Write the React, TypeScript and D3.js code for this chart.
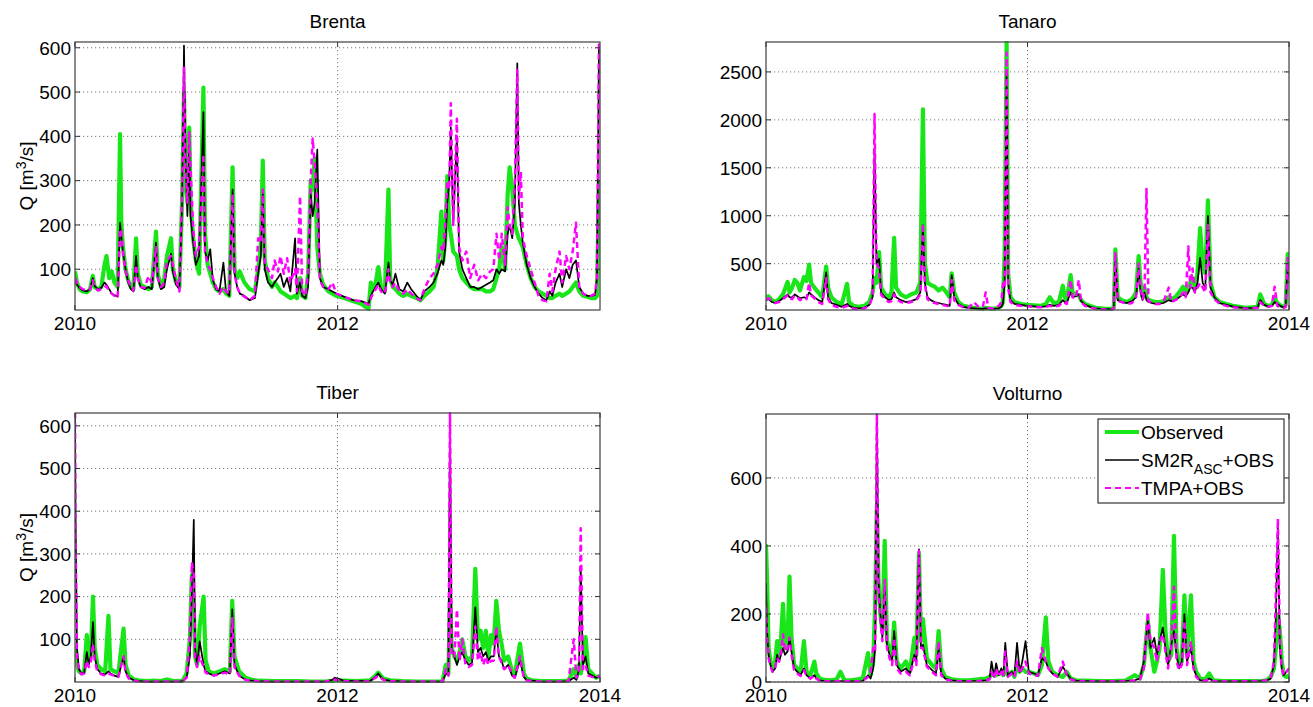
import * as d3 from 'd3';

// time in decimal years, discharge in m3/s
const brentaT = [
  2010.000, 2010.015, 2010.035, 2010.060, 2010.090, 2010.115, 2010.135, 2010.150, 2010.175, 2010.200,
  2010.225, 2010.240, 2010.260, 2010.280, 2010.300, 2010.325, 2010.343, 2010.352, 2010.365, 2010.385,
  2010.405, 2010.425, 2010.445, 2010.465, 2010.478, 2010.500, 2010.530, 2010.560, 2010.585, 2010.617,
  2010.630, 2010.655, 2010.680, 2010.700, 2010.731, 2010.745, 2010.770, 2010.795, 2010.815, 2010.830,
  2010.842, 2010.856, 2010.870, 2010.880, 2010.900, 2010.920, 2010.945, 2010.978, 2010.990, 2011.010,
  2011.030, 2011.050, 2011.075, 2011.100, 2011.130, 2011.150, 2011.175, 2011.200, 2011.215, 2011.235,
  2011.255, 2011.290, 2011.330, 2011.370, 2011.395, 2011.415, 2011.430, 2011.445, 2011.470, 2011.500,
  2011.520, 2011.545, 2011.565, 2011.590, 2011.615, 2011.640, 2011.676, 2011.690, 2011.714, 2011.730,
  2011.755, 2011.775, 2011.795, 2011.810, 2011.825, 2011.845, 2011.865, 2011.890, 2011.930, 2011.960,
  2011.990, 2012.050, 2012.120, 2012.180, 2012.235, 2012.253, 2012.270, 2012.290, 2012.310, 2012.330,
  2012.360, 2012.387, 2012.400, 2012.420, 2012.440, 2012.470, 2012.500, 2012.530, 2012.560, 2012.600,
  2012.630, 2012.660, 2012.700, 2012.730, 2012.760, 2012.790, 2012.805, 2012.820, 2012.835, 2012.850,
  2012.862, 2012.880, 2012.908, 2012.925, 2012.950, 2012.980, 2013.010, 2013.040, 2013.070, 2013.100,
  2013.130, 2013.160, 2013.185, 2013.210, 2013.230, 2013.250, 2013.275, 2013.295, 2013.310, 2013.330,
  2013.350, 2013.368, 2013.380, 2013.395, 2013.410, 2013.440, 2013.470, 2013.500, 2013.530, 2013.560,
  2013.590, 2013.615, 2013.635, 2013.660, 2013.690, 2013.710, 2013.740, 2013.765, 2013.790, 2013.815,
  2013.840, 2013.870, 2013.900, 2013.930, 2013.960, 2013.975, 2013.990,
];
const brentaObs = [
  95, 70, 55, 50, 48, 55, 85, 60, 55, 60,
  110, 130, 80, 95, 70, 60, 405, 210, 150, 100,
  75, 60, 55, 170, 90, 65, 60, 55, 60, 185,
  90, 60, 80, 130, 170, 100, 70, 60, 250, 500,
  300, 250, 420, 250, 170, 120, 90, 510, 180, 110,
  90, 70, 55, 50, 55, 45, 40, 330, 100, 80,
  95, 70, 55, 50, 100, 150, 345, 120, 80, 60,
  70, 60, 50, 45, 40, 35, 40, 35, 80, 40,
  35, 90, 300, 280, 350, 150, 90, 65, 50, 45,
  40, 35, 28, 22, 10, 70, 55, 70, 105, 60,
  50, 280, 80, 60, 55, 45, 40, 45, 40, 35,
  30, 40, 50, 60, 100, 230, 120, 170, 310, 200,
  180, 140, 130, 100, 80, 70, 60, 55, 55, 55,
  50, 50, 55, 80, 100, 150, 100, 270, 330, 280,
  200, 180, 170, 160, 150, 110, 80, 60, 50, 45,
  40, 35, 35, 40, 45, 40, 45, 50, 60, 70,
  50, 40, 38, 35, 35, 40, 300,
];
const brentaSm2r = [
  75, 65, 58, 52, 50, 55, 80, 62, 55, 58,
  70, 65, 55, 45, 42, 38, 205, 175, 140, 100,
  70, 55, 50, 130, 80, 60, 55, 60, 55, 160,
  80, 55, 60, 100, 135, 95, 65, 55, 240, 605,
  350, 220, 380, 220, 160, 110, 130, 455, 140, 120,
  145, 75, 55, 50, 115, 50, 40, 280, 90, 60,
  45, 40, 30, 35, 90, 130, 270, 100, 70, 60,
  70, 80, 90, 60, 80, 50, 170, 45, 70, 40,
  35, 60, 270, 220, 250, 370, 80, 60, 55, 50,
  45, 38, 30, 28, 22, 40, 50, 60, 70, 55,
  45, 115, 75, 65, 90, 55, 50, 70, 55, 40,
  30, 50, 60, 70, 90, 120, 110, 150, 250, 300,
  420, 200, 400, 140, 100, 80, 60, 60, 55, 60,
  65, 70, 75, 100, 90, 100, 95, 180, 200, 170,
  250, 565, 250, 200, 160, 110, 80, 60, 45, 35,
  30, 50, 40, 70, 90, 60, 100, 80, 110, 120,
  60, 45, 40, 40, 42, 80, 600,
];
const brentaTmpa = [
  80, 70, 60, 55, 52, 55, 75, 60, 52, 55,
  60, 62, 50, 45, 40, 35, 190, 190, 140, 95,
  75, 60, 52, 110, 80, 60, 58, 85, 70, 150,
  80, 60, 70, 120, 130, 110, 75, 50, 260, 555,
  320, 250, 410, 330, 190, 130, 150, 360, 140, 110,
  100, 80, 60, 45, 60, 50, 45, 270, 90, 60,
  45, 38, 30, 40, 170, 160, 280, 110, 100, 80,
  120, 95, 130, 90, 125, 70, 100, 50, 265, 50,
  40, 90, 300, 395, 340, 250, 75, 60, 55, 70,
  45, 38, 30, 28, 20, 35, 45, 55, 65, 50,
  45, 100, 70, 60, 70, 50, 45, 55, 45, 35,
  30, 55, 80, 90, 110, 150, 140, 200, 300, 280,
  475, 200, 440, 150, 120, 140, 80, 110, 75, 90,
  80, 95, 100, 180, 120, 180, 110, 240, 200, 180,
  300, 550, 260, 320, 170, 130, 100, 70, 40, 30,
  28, 90, 50, 100, 140, 70, 130, 100, 140, 205,
  60, 45, 40, 40, 45, 80, 613,
];

const tanaroT = [
  2010.000, 2010.020, 2010.045, 2010.070, 2010.100, 2010.130, 2010.165, 2010.180, 2010.200, 2010.220,
  2010.240, 2010.260, 2010.290, 2010.310, 2010.330, 2010.345, 2010.370, 2010.400, 2010.430, 2010.460,
  2010.475, 2010.500, 2010.540, 2010.580, 2010.620, 2010.635, 2010.670, 2010.710, 2010.750, 2010.790,
  2010.815, 2010.830, 2010.845, 2010.865, 2010.880, 2010.910, 2010.940, 2010.960, 2010.980, 2010.995,
  2011.030, 2011.070, 2011.110, 2011.150, 2011.180, 2011.200, 2011.215, 2011.235, 2011.260, 2011.290,
  2011.320, 2011.350, 2011.380, 2011.405, 2011.420, 2011.440, 2011.470, 2011.510, 2011.550, 2011.590,
  2011.630, 2011.660, 2011.680, 2011.700, 2011.740, 2011.780, 2011.800, 2011.812, 2011.825, 2011.840,
  2011.852, 2011.870, 2011.900, 2011.950, 2012.000, 2012.050, 2012.100, 2012.140, 2012.170, 2012.200,
  2012.240, 2012.270, 2012.285, 2012.300, 2012.330, 2012.345, 2012.370, 2012.392, 2012.410, 2012.440,
  2012.480, 2012.520, 2012.560, 2012.600, 2012.640, 2012.660, 2012.672, 2012.690, 2012.720, 2012.760,
  2012.800, 2012.830, 2012.850, 2012.865, 2012.880, 2012.895, 2012.910, 2012.925, 2012.950, 2012.980,
  2013.010, 2013.040, 2013.080, 2013.100, 2013.130, 2013.160, 2013.190, 2013.210, 2013.230, 2013.245,
  2013.262, 2013.280, 2013.300, 2013.320, 2013.340, 2013.360, 2013.380, 2013.400, 2013.430, 2013.470,
  2013.520, 2013.570, 2013.620, 2013.670, 2013.720, 2013.760, 2013.780, 2013.810, 2013.840, 2013.870,
  2013.890, 2013.910, 2013.940, 2013.960, 2013.975, 2013.990, 2014.000,
];
const tanaroObs = [
  150, 160, 120, 100, 130, 180, 310, 200, 250, 330,
  300, 220, 360, 320, 490, 300, 250, 200, 150, 470,
  250, 150, 100, 80, 290, 100, 60, 50, 60, 100,
  200, 350, 300, 620, 250, 180, 150, 200, 770, 250,
  180, 150, 180, 200, 300, 2110, 500, 300, 280, 260,
  220, 250, 200, 150, 400, 200, 100, 60, 50, 40,
  35, 30, 40, 35, 30, 40, 60, 100, 600, 2812,
  400, 150, 100, 80, 70, 65, 60, 80, 150, 90,
  100, 270, 150, 120, 380, 200, 180, 170, 120, 80,
  60, 40, 35, 30, 30, 40, 650, 150, 120, 100,
  130, 200, 580, 300, 150, 250, 150, 120, 110, 100,
  100, 110, 150, 130, 150, 200, 260, 200, 250, 300,
  350, 250, 400, 870, 500, 400, 1160, 300, 150, 100,
  80, 60, 50, 40, 45, 50, 180, 80, 60, 70,
  150, 90, 60, 50, 70, 600, 400,
];
const tanaroSm2r = [
  120, 130, 100, 90, 110, 140, 180, 150, 150, 180,
  160, 140, 150, 140, 200, 180, 150, 120, 100, 410,
  150, 90, 70, 50, 80, 60, 40, 35, 40, 70,
  150, 1700, 500, 550, 200, 150, 120, 130, 200, 150,
  120, 100, 110, 130, 200, 900, 300, 150, 120, 100,
  90, 80, 70, 60, 380, 150, 80, 50, 40, 35,
  30, 28, 35, 30, 28, 35, 50, 80, 300, 2500,
  300, 120, 80, 70, 60, 55, 50, 55, 70, 60,
  70, 120, 100, 90, 200, 150, 160, 180, 110, 70,
  50, 35, 30, 28, 25, 35, 550, 120, 100, 90,
  110, 150, 450, 200, 120, 200, 120, 100, 90, 80,
  85, 90, 120, 110, 120, 150, 180, 160, 200, 250,
  250, 200, 300, 560, 300, 250, 1000, 250, 150, 90,
  70, 55, 45, 38, 40, 45, 120, 70, 55, 60,
  100, 80, 55, 45, 60, 500, 300,
];
const tanaroTmpa = [
  130, 140, 110, 90, 100, 130, 170, 140, 130, 170,
  150, 120, 140, 130, 300, 170, 140, 100, 80, 350,
  130, 70, 50, 40, 60, 45, 30, 25, 35, 60,
  160, 2060, 500, 450, 180, 130, 100, 110, 180, 130,
  100, 90, 100, 120, 180, 920, 280, 130, 100, 90,
  80, 70, 60, 55, 330, 120, 70, 45, 40, 100,
  40, 60, 200, 40, 30, 60, 100, 290, 250, 2700,
  250, 100, 70, 60, 55, 50, 45, 50, 60, 55,
  60, 100, 90, 80, 330, 150, 140, 330, 100, 60,
  40, 30, 25, 22, 20, 30, 620, 110, 100, 80,
  90, 150, 500, 250, 130, 200, 1280, 110, 90, 80,
  80, 100, 250, 100, 120, 140, 200, 150, 680, 250,
  450, 200, 250, 300, 250, 200, 900, 200, 130, 80,
  60, 45, 40, 30, 35, 40, 100, 60, 50, 60,
  260, 60, 45, 40, 50, 560, 300,
];

const tiberT = [
  2010.000, 2010.004, 2010.015, 2010.030, 2010.050, 2010.070, 2010.090, 2010.105, 2010.120, 2010.137,
  2010.150, 2010.170, 2010.200, 2010.230, 2010.255, 2010.270, 2010.300, 2010.330, 2010.370, 2010.385,
  2010.410, 2010.450, 2010.500, 2010.550, 2010.600, 2010.650, 2010.700, 2010.750, 2010.790, 2010.820,
  2010.850, 2010.875, 2010.890, 2010.905, 2010.915, 2010.930, 2010.950, 2010.980, 2010.995, 2011.020,
  2011.060, 2011.100, 2011.140, 2011.180, 2011.198, 2011.215, 2011.250, 2011.300, 2011.350, 2011.400,
  2011.500, 2011.600, 2011.700, 2011.800, 2011.900, 2011.960, 2011.980, 2012.000, 2012.050, 2012.150,
  2012.250, 2012.290, 2012.310, 2012.330, 2012.350, 2012.400, 2012.500, 2012.600, 2012.700, 2012.800,
  2012.825, 2012.845, 2012.857, 2012.870, 2012.890, 2012.910, 2012.930, 2012.950, 2012.975, 2013.000,
  2013.025, 2013.050, 2013.070, 2013.090, 2013.110, 2013.130, 2013.150, 2013.170, 2013.190, 2013.210,
  2013.230, 2013.250, 2013.270, 2013.300, 2013.330, 2013.350, 2013.390, 2013.420, 2013.440, 2013.480,
  2013.550, 2013.620, 2013.700, 2013.760, 2013.800, 2013.820, 2013.840, 2013.853, 2013.870, 2013.890,
  2013.910, 2013.940, 2013.970, 2014.000,
];
const tiberObs = [
  60, 80, 40, 25, 20, 25, 110, 50, 60, 200,
  80, 40, 30, 25, 155, 30, 25, 20, 125, 40,
  15, 6, 3, 2, 3, 2, 6, 2, 2, 3,
  20, 100, 250, 180, 60, 40, 130, 200, 50, 25,
  20, 25, 30, 25, 190, 60, 25, 10, 5, 3,
  2, 2, 2, 1, 1, 2, 4, 5, 3, 2,
  4, 15, 22, 15, 8, 4, 2, 1, 1, 1,
  40, 20, 200, 80, 60, 50, 70, 100, 60, 50,
  60, 265, 100, 120, 80, 120, 60, 110, 90, 190,
  120, 90, 50, 60, 25, 15, 90, 20, 8, 4,
  2, 2, 2, 3, 30, 10, 40, 20, 50, 105,
  30, 20, 10, 15,
];
const tiberSm2r = [
  630, 400, 80, 30, 20, 22, 70, 40, 60, 140,
  60, 30, 20, 18, 25, 20, 15, 12, 60, 25,
  10, 4, 2, 1, 1, 1, 1, 1, 1, 2,
  10, 60, 200, 380, 80, 40, 95, 40, 25, 20,
  15, 20, 25, 20, 170, 40, 15, 5, 3, 2,
  1, 1, 1, 1, 1, 5, 10, 8, 3, 2,
  3, 12, 20, 12, 6, 3, 1, 1, 1, 1,
  20, 15, 620, 80, 60, 40, 60, 70, 50, 40,
  45, 175, 70, 80, 60, 70, 50, 60, 60, 120,
  60, 50, 30, 40, 15, 10, 50, 12, 5, 3,
  1, 1, 1, 2, 10, 5, 30, 270, 40, 60,
  20, 15, 10, 12,
];
const tiberTmpa = [
  630, 350, 60, 25, 18, 20, 50, 35, 45, 90,
  50, 25, 18, 15, 20, 18, 15, 12, 60, 22,
  8, 3, 1, 1, 1, 1, 1, 1, 1, 2,
  10, 100, 280, 250, 60, 35, 60, 35, 22, 18,
  15, 18, 22, 18, 150, 35, 15, 5, 3, 2,
  1, 1, 1, 1, 1, 3, 6, 5, 2, 1,
  2, 10, 15, 10, 5, 2, 1, 1, 1, 1,
  30, 15, 630, 60, 60, 170, 50, 100, 40, 35,
  40, 130, 50, 70, 40, 60, 40, 50, 50, 130,
  60, 45, 30, 40, 20, 10, 60, 10, 4, 2,
  1, 1, 1, 2, 100, 10, 20, 360, 30, 40,
  15, 12, 10, 15,
];

const volturnoT = [
  2010.000, 2010.008, 2010.020, 2010.035, 2010.050, 2010.070, 2010.085, 2010.100, 2010.115, 2010.130,
  2010.145, 2010.165, 2010.180, 2010.195, 2010.215, 2010.240, 2010.265, 2010.290, 2010.310, 2010.340,
  2010.370, 2010.385, 2010.410, 2010.450, 2010.500, 2010.540, 2010.570, 2010.600, 2010.650, 2010.700,
  2010.740, 2010.780, 2010.800, 2010.820, 2010.835, 2010.848, 2010.860, 2010.875, 2010.890, 2010.908,
  2010.925, 2010.945, 2010.965, 2010.980, 2011.000, 2011.030, 2011.070, 2011.100, 2011.135, 2011.150,
  2011.170, 2011.185, 2011.200, 2011.230, 2011.270, 2011.300, 2011.320, 2011.340, 2011.370, 2011.420,
  2011.480, 2011.550, 2011.620, 2011.680, 2011.710, 2011.725, 2011.745, 2011.760, 2011.780, 2011.800,
  2011.815, 2011.830, 2011.850, 2011.880, 2011.900, 2011.920, 2011.940, 2011.960, 2011.985, 2012.010,
  2012.050, 2012.080, 2012.110, 2012.140, 2012.160, 2012.190, 2012.230, 2012.270, 2012.300, 2012.330,
  2012.370, 2012.450, 2012.550, 2012.650, 2012.750, 2012.820, 2012.860, 2012.890, 2012.920, 2012.940,
  2012.970, 2012.990, 2013.010, 2013.035, 2013.055, 2013.075, 2013.100, 2013.120, 2013.140, 2013.160,
  2013.180, 2013.200, 2013.220, 2013.250, 2013.270, 2013.290, 2013.320, 2013.360, 2013.390, 2013.420,
  2013.500, 2013.600, 2013.700, 2013.780, 2013.830, 2013.860, 2013.885, 2013.900, 2013.915, 2013.930,
  2013.945, 2013.960, 2013.980, 2014.000,
];
const volturnoObs = [
  405, 300, 100, 60, 40, 60, 120, 80, 130, 230,
  100, 120, 310, 130, 50, 40, 30, 120, 30, 20,
  60, 25, 10, 6, 5, 8, 30, 5, 5, 8,
  10, 85, 20, 60, 230, 520, 300, 200, 150, 415,
  120, 100, 80, 175, 60, 40, 60, 30, 130, 80,
  380, 120, 185, 70, 50, 40, 150, 40, 15, 8,
  5, 5, 8, 10, 15, 20, 30, 20, 25, 30,
  20, 40, 20, 30, 15, 50, 30, 40, 30, 30,
  25, 20, 50, 190, 60, 30, 20, 15, 30, 10,
  5, 4, 3, 3, 4, 20, 10, 50, 180, 100,
  30, 60, 100, 330, 150, 60, 80, 430, 100, 50,
  60, 255, 80, 255, 60, 30, 10, 8, 25, 5,
  3, 3, 3, 3, 5, 15, 40, 100, 200, 150,
  60, 20, 15, 20,
];
const volturnoSm2r = [
  290, 150, 80, 50, 30, 40, 80, 60, 80, 100,
  80, 90, 130, 90, 40, 30, 20, 40, 20, 10,
  20, 10, 5, 3, 2, 2, 3, 2, 2, 2,
  3, 20, 10, 40, 100, 788, 300, 200, 130, 280,
  110, 80, 60, 150, 50, 30, 40, 25, 80, 60,
  390, 100, 110, 50, 35, 25, 100, 25, 10, 5,
  3, 3, 3, 5, 10, 60, 15, 55, 20, 40,
  20, 115, 20, 30, 20, 115, 30, 60, 120, 30,
  25, 20, 70, 60, 40, 25, 15, 45, 25, 10,
  4, 3, 2, 2, 3, 5, 10, 60, 180, 100,
  130, 80, 120, 160, 100, 50, 110, 150, 80, 40,
  60, 200, 60, 100, 40, 20, 5, 4, 10, 3,
  2, 2, 2, 3, 5, 10, 50, 200, 460, 100,
  40, 20, 30, 40,
];
const volturnoTmpa = [
  220, 130, 70, 45, 30, 40, 70, 60, 90, 140,
  90, 100, 130, 80, 35, 25, 18, 35, 18, 10,
  20, 10, 4, 2, 2, 2, 3, 2, 2, 2,
  3, 15, 30, 100, 90, 788, 280, 180, 120, 300,
  100, 70, 50, 130, 40, 25, 30, 20, 70, 50,
  385, 100, 100, 45, 30, 20, 120, 20, 8, 4,
  2, 2, 3, 4, 8, 30, 10, 40, 15, 30,
  15, 90, 15, 25, 15, 60, 25, 40, 60, 25,
  20, 18, 100, 60, 40, 25, 15, 60, 20, 8,
  3, 2, 2, 2, 3, 4, 8, 40, 205, 120,
  100, 60, 120, 140, 90, 40, 100, 280, 60, 35,
  50, 180, 50, 120, 40, 15, 4, 3, 8, 2,
  2, 2, 2, 3, 5, 10, 60, 260, 480, 120,
  40, 20, 30, 40,
];

const brentaYTicks = [100, 200, 300, 400, 500, 600];
const tanaroYTicks = [500, 1000, 1500, 2000, 2500];
const tiberYTicks = [100, 200, 300, 400, 500, 600];
const volturnoYTicks = [0, 200, 400, 600];
const yearTicks = [2010, 2012, 2014];

const seriesNames = ['Observed', 'SM2R', 'TMPA+OBS'];

const FONT = '"Liberation Sans", Arial, Helvetica, sans-serif';
const FS = 19;
const GREEN = '#19e619';
const MAGENTA = '#ff00ff';

const panels = [
  { title: 'Brenta', t: brentaT, obs: brentaObs, sm: brentaSm2r, tm: brentaTmpa, yDomain: [8, 613], xDomain: [2010, 2013.998], yTicks: brentaYTicks, ylabel: true, box: { x0: 75, x1: 600, y0: 42, y1: 310 } },
  { title: 'Tanaro', t: tanaroT, obs: tanaroObs, sm: tanaroSm2r, tm: tanaroTmpa, yDomain: [17, 2812], xDomain: [2010, 2014], yTicks: tanaroYTicks, ylabel: false, box: { x0: 766, x1: 1289, y0: 42, y1: 310 } },
  { title: 'Tiber', t: tiberT, obs: tiberObs, sm: tiberSm2r, tm: tiberTmpa, yDomain: [0, 630], xDomain: [2010, 2014], yTicks: tiberYTicks, ylabel: true, box: { x0: 75, x1: 600, y0: 413, y1: 682 } },
  { title: 'Volturno', t: volturnoT, obs: volturnoObs, sm: volturnoSm2r, tm: volturnoTmpa, yDomain: [0, 788], xDomain: [2010, 2014], yTicks: volturnoYTicks, ylabel: false, box: { x0: 766, x1: 1289, y0: 414, y1: 682 }, legend: true },
];

function Panel({ p, idx }: { p: any; idx: number }) {
  const { x0, x1, y0, y1 } = p.box;
  const x = d3.scaleLinear().domain(p.xDomain).range([x0, x1]);
  const y = d3.scaleLinear().domain(p.yDomain).range([y1, y0]);
  const line = (vals: number[]) =>
    d3.line<number>()
      .x((_, i) => x(p.t[i]))
      .y(d => y(d))(vals) || '';
  const xt = yearTicks.filter(v => v >= p.xDomain[0] && v <= p.xDomain[1]);
  const clipId = `clip${idx}`;
  const midY = (y0 + y1) / 2;
  return (
    <g>
      <defs>
        <clipPath id={clipId}>
          <rect x={x0} y={y0 - 1} width={x1 - x0} height={y1 - y0 + 2} />
        </clipPath>
      </defs>
      <rect x={x0} y={y0} width={x1 - x0} height={y1 - y0} fill="#fff" />
      {p.yTicks.map((v: number) => (
        <line key={'gy' + v} x1={x0} x2={x1} y1={y(v)} y2={y(v)} stroke="#7a7a7a" strokeWidth={1} strokeDasharray="1.2 2.8" />
      ))}
      {xt.filter(v => v > p.xDomain[0] && v < p.xDomain[1]).map(v => (
        <line key={'gx' + v} x1={x(v)} x2={x(v)} y1={y0} y2={y1} stroke="#7a7a7a" strokeWidth={1} strokeDasharray="1.2 2.8" />
      ))}
      <g clipPath={`url(#${clipId})`}>
        <path d={line(p.obs)} fill="none" stroke={GREEN} strokeWidth={4.2} strokeLinejoin="round" />
        <path d={line(p.sm)} fill="none" stroke="#000" strokeWidth={1.7} strokeLinejoin="round" />
        <path d={line(p.tm)} fill="none" stroke={MAGENTA} strokeWidth={2.5} strokeDasharray="6 4" strokeLinejoin="round" />
      </g>
      <rect x={x0} y={y0} width={x1 - x0} height={y1 - y0} fill="none" stroke="#4d4d4d" strokeWidth={1.3} />
      {p.yTicks.map((v: number) => (
        <g key={'ty' + v}>
          <line x1={x0} x2={x0 + 5} y1={y(v)} y2={y(v)} stroke="#333" />
          <line x1={x1} x2={x1 - 5} y1={y(v)} y2={y(v)} stroke="#333" />
          <text x={x0 - 4} y={y(v)} dy="0.36em" textAnchor="end" fontSize={FS} fontFamily={FONT} fill="#000">{v}</text>
        </g>
      ))}
      {xt.map(v => (
        <g key={'tx' + v}>
          <line x1={x(v)} x2={x(v)} y1={y1} y2={y1 - 5} stroke="#333" />
          <line x1={x(v)} x2={x(v)} y1={y0} y2={y0 + 5} stroke="#333" />
          <text x={x(v)} y={y1 + 20} textAnchor="middle" fontSize={FS} fontFamily={FONT} fill="#000">{v}</text>
        </g>
      ))}
      <text x={(x0 + x1) / 2} y={y0 - 14} textAnchor="middle" fontSize={FS} fontFamily={FONT} fill="#000">{p.title}</text>
      {p.ylabel && (
        <text transform={`translate(33,${midY}) rotate(-90)`} textAnchor="middle" fontSize={FS} fontFamily={FONT} fill="#000">
          Q [m<tspan dy="-7" fontSize={14}>3</tspan><tspan dy="7">/s]</tspan>
        </text>
      )}
      {p.legend && <Legend x={1098} y={419} />}
    </g>
  );
}

function Legend({ x, y }: { x: number; y: number }) {
  const rows = [
    { name: seriesNames[0], stroke: GREEN, w: 4, dash: undefined },
    { name: seriesNames[1], stroke: '#000', w: 1.6, dash: undefined },
    { name: seriesNames[2], stroke: MAGENTA, w: 2, dash: '6 4' },
  ];
  const ly = (i: number) => y + 13 + i * 28;
  return (
    <g>
      <rect x={x} y={y} width={186} height={84} fill="#fff" stroke="#333" strokeWidth={1.2} />
      {rows.map((r, i) => (
        <g key={r.name}>
          <line x1={x + 7} x2={x + 41} y1={ly(i)} y2={ly(i)} stroke={r.stroke} strokeWidth={r.w} strokeDasharray={r.dash} />
          {i === 1 ? (
            <text x={x + 43} y={ly(i)} dy="0.36em" fontSize={FS} fontFamily={FONT} fill="#000">
              SM2R<tspan dy="7" fontSize={14}>ASC</tspan><tspan dy="-7">+OBS</tspan>
            </text>
          ) : (
            <text x={x + 43} y={ly(i)} dy="0.36em" fontSize={FS} fontFamily={FONT} fill="#000">{r.name}</text>
          )}
        </g>
      ))}
    </g>
  );
}

export default function App() {
  return (
    <svg width={1313} height={707} style={{ position: 'absolute', left: 0, top: 0, background: '#fff' }}>
      <rect width={1313} height={707} fill="#fff" />
      {panels.map((p, i) => (
        <Panel key={p.title} p={p} idx={i} />
      ))}
    </svg>
  );
}
